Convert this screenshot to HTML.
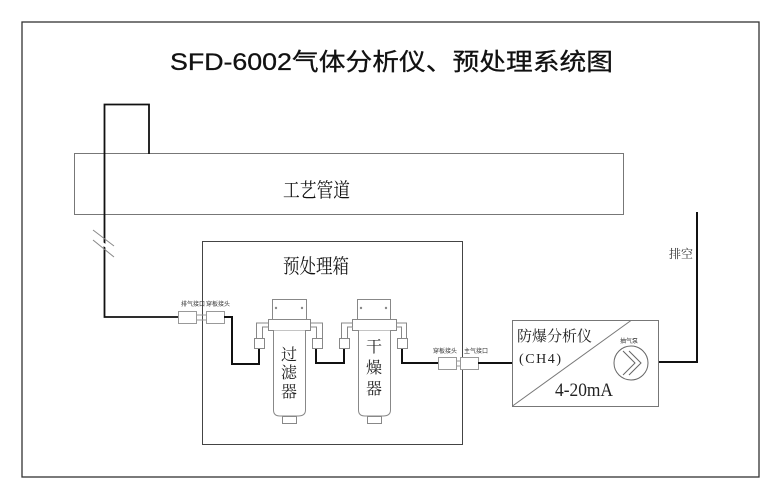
<!DOCTYPE html>
<html><head><meta charset="utf-8"><style>
html,body{margin:0;padding:0;background:#fff;}
svg{display:block;}
.s{font-family:"Liberation Serif","Noto Serif CJK SC",serif;}
.h{font-family:"Liberation Sans","Noto Sans CJK SC",sans-serif;}
</style></head><body>
<svg width="780" height="500" viewBox="0 0 780 500" xmlns="http://www.w3.org/2000/svg">
<rect x="22" y="22" width="737" height="455" fill="none" stroke="#333" stroke-width="1.3"/>
<text x="170" y="70" class="h" font-size="24" textLength="443" lengthAdjust="spacingAndGlyphs" fill="#111" stroke="#111" stroke-width="0.3">SFD-6002气体分析仪、预处理系统图</text>
<rect x="74.5" y="153.5" width="549" height="61" fill="none" stroke="#777" stroke-width="1"/>
<text x="283" y="197" class="s" font-size="20" textLength="67" lengthAdjust="spacingAndGlyphs" fill="#111">工艺管道</text>
<polyline points="149,154 149,104.5 104.5,104.5 104.5,317 178,317" fill="none" stroke="#111" stroke-width="1.8"/>
<line x1="93" y1="230" x2="114" y2="246" stroke="#888" stroke-width="1"/>
<line x1="93" y1="240" x2="114" y2="257" stroke="#888" stroke-width="1"/>
<line x1="100" y1="242" x2="109" y2="248" stroke="#fff" stroke-width="3"/>
<rect x="202.5" y="241.5" width="260" height="203" fill="none" stroke="#444" stroke-width="1"/>
<text x="283" y="273" class="s" font-size="20" textLength="66" lengthAdjust="spacingAndGlyphs" fill="#111">预处理箱</text>
<g fill="#fff" stroke="#999" stroke-width="1">
<rect x="178.5" y="311.5" width="18" height="12"/>
<rect x="206.5" y="311.5" width="18" height="12"/>
<rect x="438.5" y="357.5" width="18" height="12"/>
<rect x="460.5" y="357.5" width="18" height="12"/>
</g>
<g stroke="#999" stroke-width="1"><line x1="197" y1="315" x2="206" y2="315"/><line x1="197" y1="320" x2="206" y2="320"/>
<line x1="457" y1="361" x2="460" y2="361"/><line x1="457" y1="366" x2="460" y2="366"/></g>
<g class="h" font-size="6" fill="#333">
<text x="181" y="306">排气接口</text>
<text x="206" y="306">穿板接头</text>
<text x="433" y="353">穿板接头</text>
<text x="464" y="353">主气接口</text>
</g>
<g fill="none" stroke="#111" stroke-width="2">
<polyline points="224,317 232,317 232,364 259,364 259,347"/>
<polyline points="316,347 316,363 344,363 344,347"/>
<polyline points="402,347 402,363 438,363"/>
<polyline points="478,363 512,363"/>
<polyline points="658,362 697,362 697,212"/>
</g>
<g fill="#fff" stroke="#888" stroke-width="1">
<rect x="272.5" y="299.5" width="34" height="20"/>
<rect x="268.5" y="319.5" width="42" height="11"/>
<path d="M273.5,330.5 V410 Q273.5,416 280,416 H298 Q305.5,416 305.5,410 V330.5"/>
<rect x="282.5" y="416.5" width="14" height="7"/>
<polyline points="268.5,323 256.5,323 256.5,338"/>
<polyline points="268.5,327 262.5,327 262.5,338"/>
<rect x="254.5" y="338.5" width="10" height="10"/>
<polyline points="310.5,323 322.5,323 322.5,338"/>
<polyline points="310.5,327 316.5,327 316.5,338"/>
<rect x="312.5" y="338.5" width="10" height="10"/>
<rect x="357.5" y="299.5" width="33" height="20"/>
<rect x="352.5" y="319.5" width="44" height="11"/>
<path d="M358.5,330.5 V410 Q358.5,416 365,416 H383 Q390.5,416 390.5,410 V330.5"/>
<rect x="367.5" y="416.5" width="14" height="7"/>
<polyline points="352.5,323 341.5,323 341.5,338"/>
<polyline points="352.5,327 347.5,327 347.5,338"/>
<rect x="339.5" y="338.5" width="10" height="10"/>
<polyline points="396.5,323 406.5,323 406.5,338"/>
<polyline points="396.5,327 401.5,327 401.5,338"/>
<rect x="397.5" y="338.5" width="10" height="10"/>
</g>
<g fill="#888"><circle cx="276" cy="308" r="1.2"/><circle cx="302" cy="308" r="1.2"/><circle cx="361" cy="308" r="1.2"/><circle cx="386" cy="308" r="1.2"/></g>
<g class="s" font-size="16" fill="#222" text-anchor="middle">
<text x="289" y="360">过</text><text x="289" y="378">滤</text><text x="289" y="397">器</text>
<text x="374" y="352">干</text><text x="374" y="373">燥</text><text x="374" y="394">器</text>
</g>
<rect x="512.5" y="320.5" width="146" height="86" fill="none" stroke="#777" stroke-width="1"/>
<line x1="512.5" y1="406" x2="631" y2="320.5" stroke="#777" stroke-width="1"/>
<text x="517" y="341" class="s" font-size="15" fill="#222">防爆分析仪</text>
<text x="519" y="363" class="s" font-size="14" textLength="42" lengthAdjust="spacing" fill="#222">(CH4)</text>
<text x="555" y="396" class="s" font-size="19" textLength="58" lengthAdjust="spacingAndGlyphs" fill="#222">4-20mA</text>
<text x="620" y="343" class="h" font-size="6" fill="#333">抽气泵</text>
<circle cx="631" cy="363" r="17" fill="none" stroke="#666" stroke-width="1"/>
<polyline points="623,351 635,363 623,375" fill="none" stroke="#666"/>
<polyline points="629,351 641,363 629,375" fill="none" stroke="#666"/>
<text x="669" y="258" class="s" font-size="12" fill="#333">排空</text>
</svg>
</body></html>
